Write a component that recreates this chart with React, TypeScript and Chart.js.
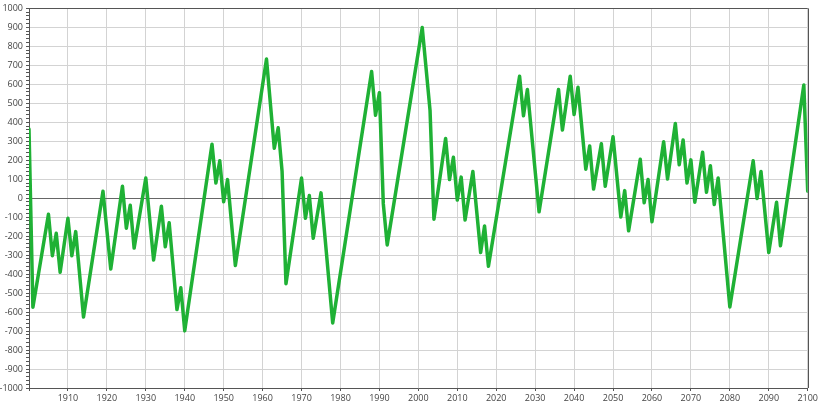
import React, { useEffect, useRef } from "react";
import { Chart, registerables } from "chart.js";

Chart.register(...registerables);

const years = [1900,1901,1905,1906,1907,1908,1910,1911,1912,1914,1919,1921,1924,1925,1926,1927,1930,1932,1934,1935,1936,1938,1939,1940,1947,1948,1949,1950,1951,1953,1961,1963,1964,1965,1966,1970,1971,1972,1973,1975,1978,1988,1989,1990,1991,1992,2001,2003,2004,2007,2008,2009,2010,2011,2012,2014,2016,2017,2018,2026,2027,2028,2031,2036,2037,2039,2040,2041,2043,2044,2045,2047,2048,2050,2052,2053,2054,2057,2058,2059,2060,2063,2064,2066,2067,2068,2069,2070,2071,2073,2074,2075,2076,2077,2080,2086,2087,2088,2090,2092,2093,2099,2100];

const values = [365,-575,-85,-303,-185,-390,-106,-303,-176,-626,37,-373,63,-158,-37,-263,106,-326,-42,-256,-129,-587,-472,-699,284,80,197,-19,98,-355,733,263,371,141,-451,106,-106,14,-211,28,-657,667,437,556,-30,-246,899,463,-111,315,98,216,-10,111,-115,141,-286,-146,-359,643,434,573,-72,573,359,643,441,585,153,275,48,287,63,324,-99,40,-172,205,-24,98,-124,298,101,394,176,307,80,202,-21,242,31,171,-33,106,-573,197,-2,141,-286,-21,-251,597,37];

const xMin = 1900;
const xMax = 2100;
const yMin = -1000;
const yMax = 1000;

const frame = {
  id: "frame",
  afterDraw(chart: any) {
    const { ctx, chartArea } = chart;
    ctx.save();
    ctx.strokeStyle = "#555";
    ctx.lineWidth = 1;
    ctx.beginPath();
    ctx.moveTo(chartArea.left, Math.round(chartArea.top) + 0.5);
    ctx.lineTo(chartArea.right, Math.round(chartArea.top) + 0.5);
    ctx.moveTo(Math.round(chartArea.right) + 0.5, chartArea.top);
    ctx.lineTo(Math.round(chartArea.right) + 0.5, chartArea.bottom);
    ctx.stroke();
    ctx.restore();
  },
};

export default function App() {
  const ref = useRef<HTMLCanvasElement>(null);
  useEffect(() => {
    document.body.style.margin = "0";
    const chart = new Chart(ref.current!, {
      type: "line",
      data: {
        datasets: [
          {
            data: years.map((y, i) => ({ x: y, y: values[i] })),
            borderColor: "#1fb135",
            borderWidth: 3.5,
            borderJoinStyle: "round",
            borderCapStyle: "round",
            pointRadius: 0,
            tension: 0,
            fill: false,
          },
        ],
      },
      options: {
        animation: false,
        responsive: false,
        maintainAspectRatio: false,
        layout: { padding: { top: 5, right: 10, left: 0, bottom: 0 } },
        plugins: { legend: { display: false }, tooltip: { enabled: false } },
        scales: {
          x: {
            type: "linear",
            min: xMin,
            max: xMax,
            afterFit: (s: any) => { s.height = 19; },
            border: { color: "#555", width: 1 },
            grid: { color: "#d3d3d3", tickColor: "#555", tickLength: 3 },
            ticks: {
              stepSize: 10,
              autoSkip: false,
              maxRotation: 0,
              padding: 2,
              color: "#444",
              font: { family: "Open Sans", size: 9 },
              callback: (v: any) => (v === xMin ? "" : String(v)),
            },
          },
          y: {
            min: yMin,
            max: yMax,
            afterFit: (s: any) => { s.width = 29; },
            border: { color: "#555", width: 1 },
            grid: {
              color: (c: any) => {
                const v = Math.round(c.tick.value);
                if (v === 0) return "#666";
                return v % 100 === 0 ? "#d3d3d3" : "rgba(0,0,0,0)";
              },
              tickColor: "#555",
              tickLength: 3,
            },
            ticks: {
              stepSize: 20,
              autoSkip: false,
              padding: 3,
              color: "#444",
              font: { family: "Open Sans", size: 9 },
              callback: (v: any) => {
                const r = Math.round(v);
                return r % 100 === 0 ? String(r) : "";
              },
            },
          },
        },
      },
      plugins: [frame],
    });
    return () => chart.destroy();
  }, []);
  return (
    <div style={{ width: 820, height: 407 }}>
      <canvas ref={ref} width={820} height={407} />
    </div>
  );
}
